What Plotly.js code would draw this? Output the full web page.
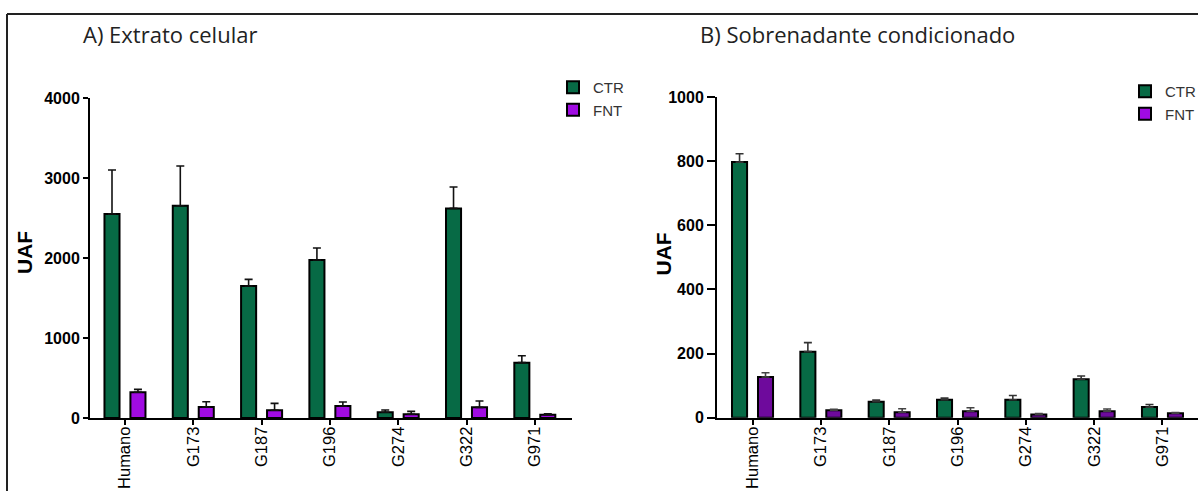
<!DOCTYPE html>
<html><head><meta charset="utf-8">
<script src="https://cdn.plot.ly/plotly-3.0.1.min.js"></script>
<style>html,body{margin:0;padding:0;background:#fff;overflow:hidden}#chart{width:1198px;height:491px}</style>
</head><body><div id="chart"></div>
<script>
const categories = ['Humano','G173','G187','G196','G274','G322','G971'];
const seriesNames = ['CTR','FNT'];
const extractCTR = [2550,2654,1650,1975,71,2620,692];
const extractCTRErr = [550,496,83,150,29,267,87];
const extractFNT = [321,137,96,150,46,133,42];
const extractFNTErr = [37,67,87,50,37,79,12];
const superCTR = [797,206,50,56,56,120,33];
const superCTRErr = [26,28,5,5,13,10,8];
const superFNT = [127,23,17,20,10,20,14];
const superFNTErr = [13,3,11,11,3,7,2];
const extractTicks = [0,1000,2000,3000,4000];
const superTicks = [0,200,400,600,800,1000];
const titleA = 'A) Extrato celular';
const titleB = 'B) Sobrenadante condicionado';
const yTitle = 'UAF';

const W = 1198, H = 491;
const px = v => v / W;
const py = v => 1 - v / H;
const green = '#076a45';
const purple = '#a00be2';
const darkPurple = '#6e0a9c';
const zeros = categories.map(() => 0);

function barTrace(y, err, name, color, xa, ya, legend, og, showlegend, errColor) {
  return {
    type: 'bar', x: categories, y: y, name: name,
    xaxis: xa, yaxis: ya, legend: legend, offsetgroup: og, showlegend: showlegend,
    marker: {color: color, line: {color: '#000', width: 2}},
    error_y: {type: 'data', symmetric: false, array: err, arrayminus: zeros,
              color: errColor, thickness: 1.6, width: 4},
    hoverinfo: 'x+y'
  };
}

const data = [
  barTrace(extractCTR, extractCTRErr, seriesNames[0], green, 'x', 'y', 'legend', 'ctr', true, '#111'),
  barTrace(extractFNT, extractFNTErr, seriesNames[1], purple, 'x', 'y', 'legend', 'fnt', true, '#111'),
  barTrace(superCTR, superCTRErr, seriesNames[0], green, 'x2', 'y2', 'legend2', 'ctr', true, '#333'),
  barTrace(superFNT, superFNTErr, seriesNames[1], darkPurple, 'x2', 'y2', 'legend2', 'fnt', false, '#444'),
  {type: 'bar', x: [null], y: [null], name: seriesNames[1], xaxis: 'x2', yaxis: 'y2',
   legend: 'legend2', offsetgroup: 'fnt', showlegend: true,
   marker: {color: purple, line: {color: '#000', width: 2}}}
];

const xTickFont = {family: 'Liberation Sans, Arial, sans-serif', size: 16.5, color: '#000'};
const yTickFont = {family: 'Liberation Sans, Arial, sans-serif', size: 16, color: '#000', weight: 'bold'};
const yTitleFont = {family: 'Liberation Sans, Arial, sans-serif', size: 21, color: '#000', weight: 'bold'};
const titleFont = {family: 'Open Sans, sans-serif', size: 22, color: '#222'};

function xAxis(domain, range) {
  return {domain: domain, range: range, type: 'category', showline: true, linecolor: '#000', linewidth: 2,
          ticks: 'outside', ticklen: 5, tickwidth: 2, tickcolor: '#000', tickangle: -90,
          ticklabelstandoff: -5,
          tickfont: xTickFont, showgrid: false, zeroline: false, automargin: false, fixedrange: true};
}
function yAxis(domain, range, ticks, anchor, ticklen) {
  return {domain: domain, range: range, anchor: anchor, tickvals: ticks, ticktext: ticks.map(String),
          showline: true, linecolor: '#000', linewidth: 2, ticks: 'outside', ticklen: ticklen, tickwidth: 2,
          tickcolor: '#000', tickfont: yTickFont, showgrid: false, zeroline: false, automargin: false,
          fixedrange: true};
}

const legendBase = {bgcolor: 'rgba(0,0,0,0)', font: {family: 'Liberation Sans, Arial, sans-serif', size: 15, color: '#333'},
                    xanchor: 'left', yanchor: 'top', traceorder: 'normal', tracegroupgap: 4, itemclick: false};

const layout = {
  width: W, height: H,
  margin: {l: 0, r: 0, t: 0, b: 0, pad: 0, autoexpand: false},
  paper_bgcolor: '#fff', plot_bgcolor: '#fff',
  barmode: 'group', bargap: 0.24, bargroupgap: 0.42,
  xaxis: xAxis([px(90), px(571.5)], [-0.512, 6.537]),
  yaxis: yAxis([py(418), py(98)], [0, 4000], extractTicks, 'x', 5),
  xaxis2: xAxis([px(717), 1], [-0.52, 6.52]),
  yaxis2: yAxis([py(417.7), py(97)], [0, 1000], superTicks, 'x2', 8),
  legend: Object.assign({}, legendBase, {x: px(553), y: py(71)}),
  legend2: Object.assign({}, legendBase, {x: px(1125), y: py(75)}),
  showlegend: true,
  annotations: [
    {text: titleA, xref: 'paper', yref: 'paper', x: px(81), y: py(34), xanchor: 'left', yanchor: 'middle',
     showarrow: false, font: titleFont},
    {text: titleB, xref: 'paper', yref: 'paper', x: px(698), y: py(34), xanchor: 'left', yanchor: 'middle',
     showarrow: false, font: titleFont},
    {text: yTitle, xref: 'paper', yref: 'paper', x: px(25), y: py(253), xanchor: 'center', yanchor: 'middle',
     textangle: -90, showarrow: false, font: yTitleFont},
    {text: yTitle, xref: 'paper', yref: 'paper', x: px(662.5), y: py(254), xanchor: 'center', yanchor: 'middle',
     textangle: -90, showarrow: false, font: yTitleFont}
  ],
  shapes: [
    {type: 'line', xref: 'paper', yref: 'paper', x0: px(7), x1: 1, y0: py(14), y1: py(14), line: {color: '#222', width: 2}},
    {type: 'line', xref: 'paper', yref: 'paper', x0: px(7), x1: px(7), y0: py(14), y1: 0, line: {color: '#222', width: 2}}
  ]
};

Plotly.newPlot('chart', data, layout, {displayModeBar: false, staticPlot: true});
</script></body></html>
